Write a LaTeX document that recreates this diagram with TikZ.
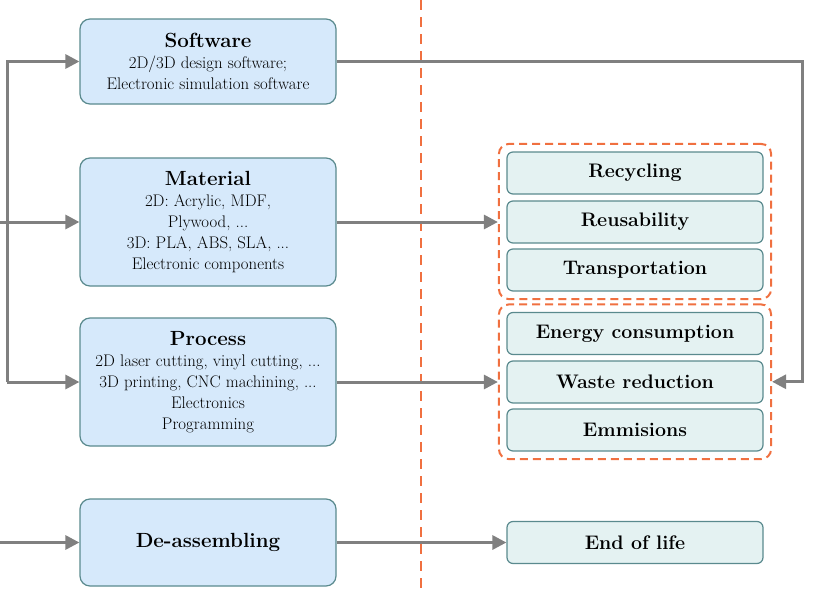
\documentclass[tikz,border=0pt]{standalone}
\usepackage{fontspec}
\usepackage{xcolor}
\usepackage{tikz}
\usetikzlibrary{arrows.meta,fit}

\definecolor{inblue}{HTML}{D6E9FB}
\definecolor{outteal}{HTML}{E4F2F2}
\definecolor{boxedge}{HTML}{5A8A8E}
\definecolor{dashorange}{HTML}{F07040}
\definecolor{arrowgrey}{HTML}{808080}

\newcommand{\hd}[1]{{\fontsize{20.5}{24}\selectfont\bfseries #1}}

\tikzset{
  inbox/.style = {draw = boxedge, line width = 1.2pt, fill = inblue, rounded corners = 10pt,
                  minimum width = 256pt, align = center, font = \fontsize{16.8}{21}\selectfont},
  outbox/.style = {draw = boxedge, line width = 1.2pt, fill = outteal, rounded corners = 6pt,
                   minimum width = 256pt, minimum height = 42pt,
                   font = \fontsize{19.6}{23}\selectfont\bfseries},
  group/.style = {draw = dashorange, line width = 2pt, dash pattern = on 8pt off 5pt,
                  rounded corners = 10pt, inner sep = 7.5pt},
  arr/.style = {draw = arrowgrey, line width = 3pt,
                -{Triangle[length = 14pt, width = 14pt, fill = arrowgrey]}}
}

\begin{document}
\begin{tikzpicture}[x = 1pt, y = -1pt]
            \useasboundingbox (0, 0) rectangle (814, 605);

            % separator
            \coordinate (septop) at (421, 0);
            \coordinate (sepbot) at (421, 592);
            \draw [dashorange, line width = 2pt, dash pattern = on 10pt off 7pt] (septop) -- (sepbot);

            % inputs
            \node (sw) at (208, 61.5) [inbox, minimum height = 85pt] {\hd{Software}\\ 2D/3D design software;\\ Electronic simulation software};
            \node (mat) at (208, 222) [inbox, minimum height = 128pt] {\hd{Material}\\ 2D: Acrylic, MDF,\\ Plywood, ...\\ 3D: PLA, ABS, SLA, ...\\ Electronic components};
            \node (pro) at (208, 382) [inbox, minimum height = 128pt] {\hd{Process}\\ 2D laser cutting, vinyl cutting, ...\\ 3D printing, CNC machining, ...\\ Electronics\\ Programming};
            \node (de) at (208, 542.5) [inbox, minimum height = 87pt] {\hd{De-assembling}};

            % outputs
            \node (rec) at (635, 173) [outbox] {Recycling};
            \node (reu) at (635, 222) [outbox] {Reusability};
            \node (tra) at (635, 270) [outbox] {Transportation};
            \node (ene) at (635, 333.5) [outbox] {Energy consumption};
            \node (was) at (635, 382) [outbox] {Waste reduction};
            \node (emi) at (635, 430) [outbox] {Emmisions};
            \node (eol) at (635, 542.5) [outbox] {End of life};

            \node (grpA) [group, fit = (rec) (tra)] {};
            \node (grpB) [group, fit = (ene) (emi)] {};

            % connectors
            \coordinate (spine) at (7, 382);
            \coordinate (matin) at (0, 222);
            \coordinate (dein) at (0, 542.5);
            \coordinate (swturn) at (802, 61.5);
            \draw [arr] (spine) |- (sw.west);
            \draw [arr] (spine) -- (pro.west);
            \draw [arr] (matin) -- (mat.west);
            \draw [arr] (dein) -- (de.west);
            \draw [arr] (sw.east) -- (swturn) |- (grpB.east);
            \draw [arr] (mat.east) -- (mat.east -| grpA.west);
            \draw [arr] (pro.east) -- (pro.east -| grpB.west);
            \draw [arr] (de.east) -- (eol.west);
        \end{tikzpicture}
\end{document}
